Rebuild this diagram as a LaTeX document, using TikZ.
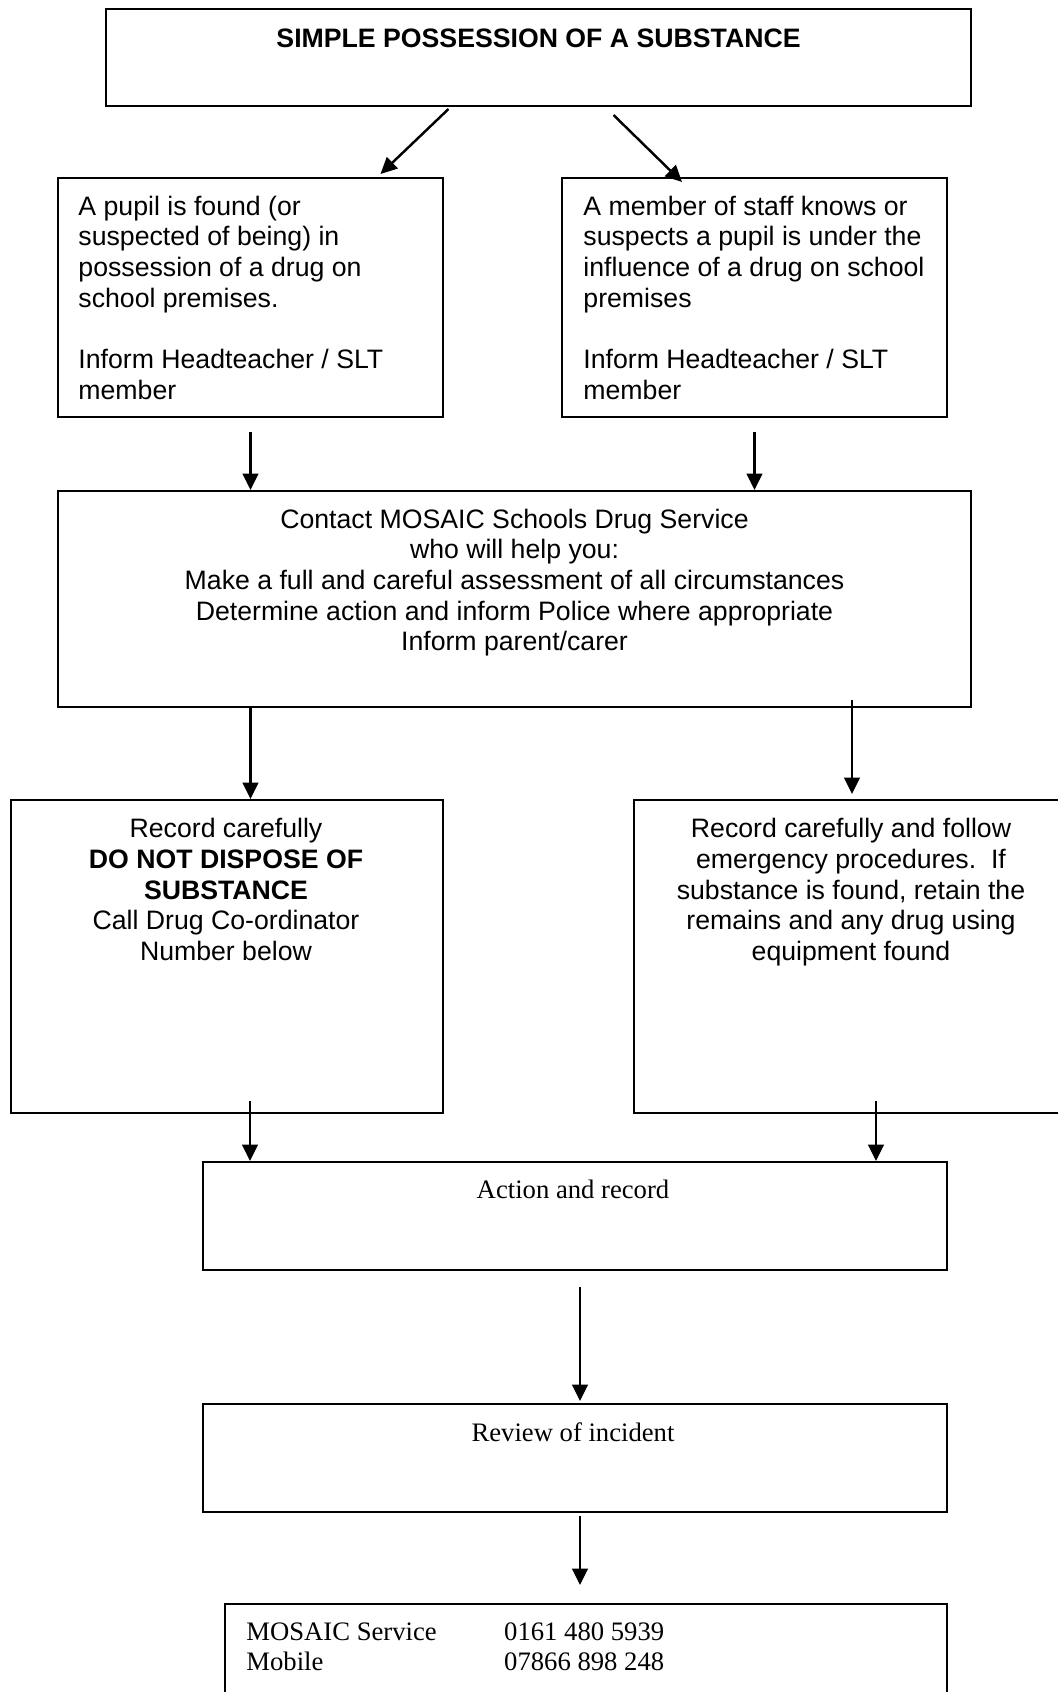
\documentclass[tikz,border=0pt]{standalone}
\usepackage{fontspec}
\setmainfont{Liberation Sans}
\newfontfamily\timesfont{Liberation Serif}
\usetikzlibrary{arrows.meta,calc}
\newcommand{\boxunit}{0.45pt}

\begin{document}
\begin{tikzpicture}[x=\boxunit, y=-\boxunit]
	\tikzstyle{every node}=[font=\fontsize{12}{13.8}\selectfont]
	\tikzset{
		box/.style 2 args={draw, line width=0.9pt, inner sep=0, minimum width=#1*\boxunit, minimum height=#2*\boxunit},
		txt/.style={inner sep=0},
		arr/.style={-{Triangle[length=7.4pt,width=7pt]}, line width=1.1pt}
	}
	\useasboundingbox (0,0) rectangle (1057,1692);

	%boxes
	\node[box={865}{97}] (title) at (538.5,57.5) {};
	\node[box={385}{239}] (pupil) at (250.5,297.5) {};
	\node[box={385}{239}] (staff) at (754.5,297.5) {};
	\node[box={913}{216}] (contact) at (514.5,599) {};
	\node[box={432}{313}] (record) at (227,956.5) {};
	\node[box={436}{313}] (emerg) at (852,956.5) {};
	\node[box={744}{108}] (action) at (575,1216) {};
	\node[box={744}{108}] (review) at (575,1458) {};
	\node[box={722}{116}] (info) at (586,1662) {};

	%texts
	\node[txt, anchor=base] (title text) at ($(title.north)+(0,39.5)$)
		{\bfseries SIMPLE POSSESSION OF A SUBSTANCE};
	\node[txt, anchor=north west, align=left] (pupil text) at ($(pupil.north west)+(21,18.5)$)
		{A pupil is found (or\\ suspected of being) in\\ possession of a drug on\\ school premises.\\[13.8pt] Inform Headteacher / SLT\\ member};
	\node[txt, anchor=north west, align=left] (staff text) at ($(staff.north west)+(22,18.5)$)
		{A member of staff knows or\\ suspects a pupil is under the\\ influence of a drug on school\\ premises\\[13.8pt] Inform Headteacher / SLT\\ member};
	\node[txt, anchor=north, align=center] (contact text) at ($(contact.north)+(0,18.5)$)
		{Contact MOSAIC Schools Drug Service\\ who will help you:\\ Make a full and careful assessment of all circumstances\\ Determine action and inform Police where appropriate\\ Inform parent/carer};
	\node[txt, anchor=north, align=center] (record text) at ($(record.north)+(-1,19)$)
		{Record carefully\\ \textbf{DO NOT DISPOSE OF}\\ \textbf{SUBSTANCE}\\ Call Drug Co-ordinator\\ Number below};
	\node[txt, anchor=north, align=center] (emerg text) at ($(emerg.north)+(-1,19)$)
		{Record carefully and follow\\ emergency procedures.\ \ If\\ substance is found, retain the\\ remains and any drug using\\ equipment found};
	\node[txt, anchor=north, font=\fontsize{12}{13.8}\timesfont] (action text) at ($(action.north)+(-2,19)$)
		{Action and record};
	\node[txt, anchor=north, font=\fontsize{12}{13.8}\timesfont] (review text) at ($(review.north)+(-2,19)$)
		{Review of incident};
	\node[txt, anchor=north west, align=left, font=\fontsize{12}{13.6}\timesfont] (info text) at ($(info.north west)+(22,19)$)
		{\makebox[116pt][l]{MOSAIC Service}0161 480 5939\\ \makebox[116pt][l]{Mobile}07866 898 248};

	%arrows
	\draw[arr] ($(title.south)+(-90,2)$) -- ($(pupil.north)+(130,-3)$);
	\draw[arr] ($(title.south)+(75,8)$) -- ($(staff.north)+(-72.5,5)$);
	\draw[arr] ($(pupil.south)+(0,14)$) -- (pupil.south |- contact.north);
	\draw[arr] ($(staff.south)+(0,14)$) -- (staff.south |- contact.north);
	\draw[arr] (contact.south -| pupil.south) -- (record.north -| pupil.south);
	\draw[arr] ($(contact.south -| emerg.north)+(0,-8)$) -- ($(emerg.north)+(0,-5)$);
	\draw[arr] ($(record.south)+(23,-13)$) -- ($(action.north)+(-325,0)$);
	\draw[arr] ($(emerg.south)+(24,-13)$) -- ($(action.north)+(301,0)$);
	\draw[arr] ($(action.south)+(5,16)$) -- ($(review.north)+(5,-2)$);
	\draw[arr] ($(review.south)+(5,3)$) -- ($(info.north)+(-6,-18)$);
\end{tikzpicture}
\end{document}
